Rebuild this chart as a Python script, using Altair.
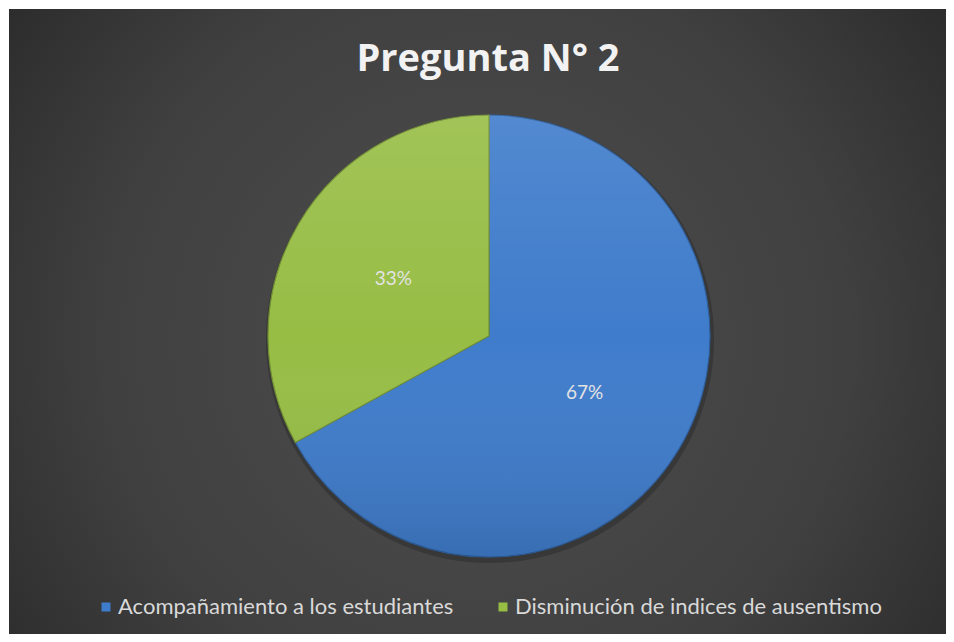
import altair as alt
import pandas as pd

categories = ["Acompañamiento a los estudiantes", "Disminución de indices de ausentismo"]
values = [67, 33]
labels = ["67%", "33%"]
fill_colors = ["#3f7ccb", "#97bd45"]
edge_colors = ["#2d5f9e", "#718f33"]

df = pd.DataFrame({"cat": categories, "val": values, "lab": labels, "order": [0, 1]})
bg_df = pd.DataFrame({"k": [0]})

W, H = 938, 626
CX, CY, R = 481, 328, 221

bg = alt.Chart(bg_df).mark_rect(
    fill={
        "gradient": "radial",
        "x1": 0.5, "y1": 0.52, "r1": 0,
        "x2": 0.5, "y2": 0.52, "r2": 0.72,
        "stops": [
            {"offset": 0, "color": "#4e4e4e"},
            {"offset": 0.55, "color": "#404040"},
            {"offset": 1, "color": "#232323"},
        ],
    },
    strokeWidth=0,
).encode(
    x=alt.value(1), x2=alt.value(W), y=alt.value(1), y2=alt.value(H)
)

shadow = alt.Chart(bg_df).mark_arc(
    theta=0, theta2=6.2832, outerRadius=R + 3, fill="#2e2e2e", opacity=0.6
).encode(x=alt.value(CX + 1), y=alt.value(CY + 3))

pie = alt.Chart(df).mark_arc(outerRadius=R, strokeWidth=1.2).encode(
    x=alt.value(CX),
    y=alt.value(CY),
    theta=alt.Theta("val:Q", stack=True),
    order=alt.Order("order:Q"),
    color=alt.Color(
        "cat:N",
        sort=categories,
        scale=alt.Scale(domain=categories, range=fill_colors),
        legend=alt.Legend(
            orient="none",
            legendX=87,
            legendY=588,
            direction="horizontal",
            title=None,
            padding=0,
            symbolType="square",
            symbolSize=81,
            symbolStrokeWidth=0,
            labelFontSize=22,
            labelFont="Lato",
            labelColor="#d9d9d9",
            labelOffset=1,
            columnPadding=38,
            labelLimit=600,
        ),
    ),
    stroke=alt.Stroke(
        "cat:N",
        sort=categories,
        scale=alt.Scale(domain=categories, range=edge_colors),
        legend=None,
    ),
)

shade = alt.Chart(bg_df).mark_arc(
    theta=0,
    theta2=6.2832,
    outerRadius=R,
    fill={
        "gradient": "linear",
        "x1": 0, "y1": 0, "x2": 0, "y2": 1,
        "stops": [
            {"offset": 0, "color": "rgba(255,255,255,0.10)"},
            {"offset": 0.5, "color": "rgba(255,255,255,0.0)"},
            {"offset": 1, "color": "rgba(0,0,0,0.12)"},
        ],
    },
).encode(x=alt.value(CX), y=alt.value(CY))

text = alt.Chart(df).mark_text(
    radius=111, fontSize=19, font="Lato", color="#e3e3e3"
).encode(
    x=alt.value(CX),
    y=alt.value(CY),
    theta=alt.Theta("val:Q", stack=True),
    order=alt.Order("order:Q"),
    text="lab:N",
)

chart = alt.layer(bg, shadow, pie, shade, text).properties(
    width=W,
    height=H,
    autosize=alt.AutoSizeParams(type="none"),
    padding=0,
    background="#ffffff",
    title=alt.TitleParams(
        "Pregunta N° 2",
        font="Open Sans",
        fontSize=38,
        fontWeight="bold",
        color="#f2f2f2",
        anchor="middle",
        frame="group",
        offset=0,
        dx=11,
        dy=71,
    ),
).resolve_scale(theta="shared").configure_view(stroke=None)

chart.save("out.html", embed_options={"renderer": "svg", "actions": False})
